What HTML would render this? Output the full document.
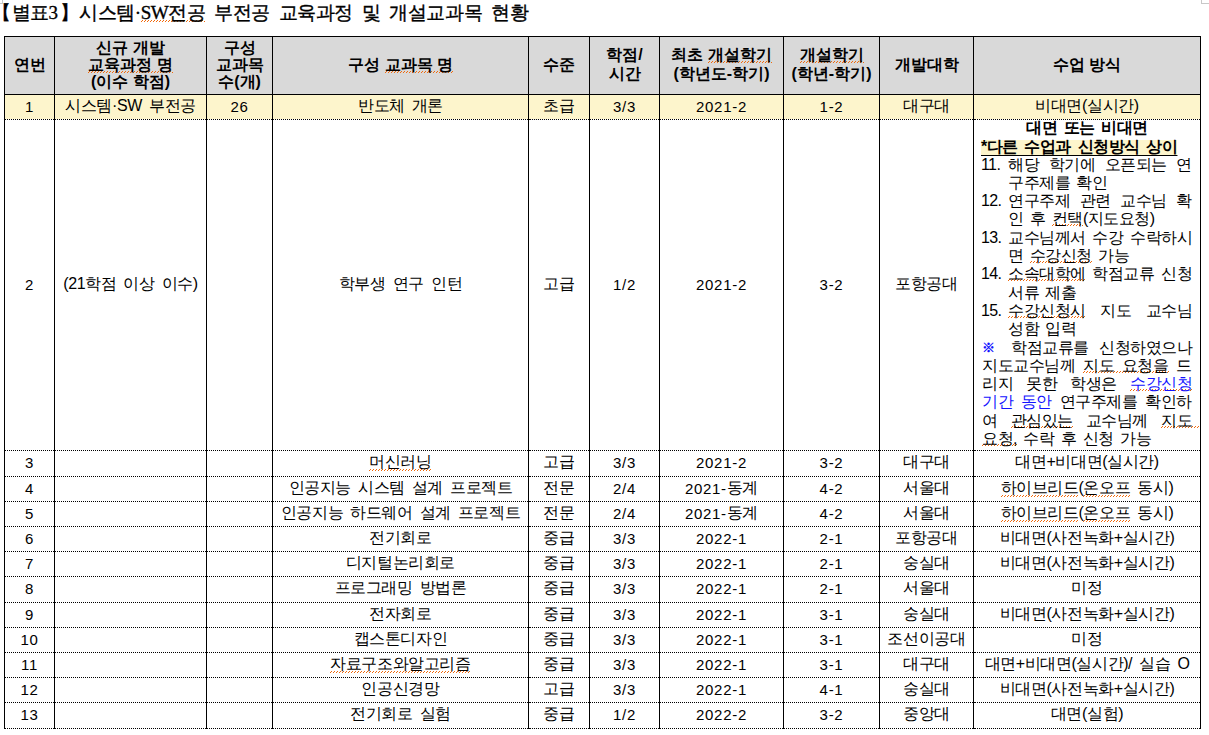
<!DOCTYPE html>
<html lang="ko">
<head>
<meta charset="utf-8">
<title>별표3 시스템·SW전공 부전공 교육과정 및 개설교과목 현황</title>
<style>
html,body{margin:0;padding:0;background:#fff;}
body{width:1209px;height:735px;position:relative;overflow:hidden;font-family:"Liberation Sans",sans-serif;color:#000;}
.title{position:absolute;left:3px;top:0;height:26px;line-height:26px;font-family:"Liberation Serif",serif;font-weight:normal;-webkit-text-stroke:0.35px #000;font-size:19px;white-space:nowrap;margin:0;word-spacing:4.6px;letter-spacing:-0.45px;}
.title .lb{margin-left:-11px;letter-spacing:0.5px;}
.title .rb{margin-right:-8px;margin-left:2px;}
.mark{position:absolute;left:1201px;top:0;width:7px;height:3px;border-left:1px solid #c8c8c8;border-bottom:1px solid #c8c8c8;}
.mark.l{left:0;width:2px;border-left:0;border-right:1px solid #c8c8c8;}
u.sq{text-decoration:none;padding-bottom:1px;background-image:linear-gradient(90deg,#f26a0c 0,#f26a0c 1px,transparent 1px),linear-gradient(90deg,#f26a0c 0,#f26a0c 1px,transparent 1px);background-size:3px 1px,3px 1px;background-repeat:repeat-x,repeat-x;background-position:1px calc(100% - 1px),0 100%;}
.title u.sq,td.note u.sq{padding-bottom:0;background-position:1px calc(100% - 2px),0 calc(100% - 1px);}
th u.sq{padding-bottom:0;background-position:1px calc(100% - 1px),0 100%;}
table{position:absolute;left:4px;top:36px;border-collapse:collapse;table-layout:fixed;width:1197px;font-size:16px;}
td,th{padding:0;border-left:1px solid #000;border-right:1px solid #000;border-top:1px dotted #000;border-bottom:1px dotted #000;text-align:center;vertical-align:middle;font-weight:normal;overflow:hidden;white-space:nowrap;}
th{background:#d9d9d9;font-weight:bold;border-top:1px solid #000;border-bottom:1px solid #000;}
tr{height:25px;}
tr.head{height:58px;}
tr.t26{height:26px;}
tr.big{height:331px;}
tr.hl td{background:#fdf5cc;}
.c{display:block;overflow:hidden;height:24px;line-height:22px;}
tbody td{vertical-align:top;letter-spacing:-0.4px;word-spacing:3px;}
tr.big td{vertical-align:middle;}
th .c{height:auto;max-height:56px;line-height:16.7px;}
th.l2 .c{line-height:18.25px;position:relative;top:-1px;}
tr.big td.note{vertical-align:top;white-space:nowrap;text-align:left;letter-spacing:-0.5px;word-spacing:0;}
td.note .c{height:330px;line-height:18.3px;padding:0 8px 0 8px;position:relative;top:-1px;}
td.note p,td.note ul{margin:0;padding:0;}
td.note p.ctr{text-align:center;word-spacing:2.5px;}
td.note .hlt{background:linear-gradient(#fdf5cc,#fdf5cc) 0 2px/100% 16px no-repeat;text-decoration:underline;text-decoration-thickness:1px;text-underline-offset:3px;word-spacing:2.8px;position:relative;top:1px;left:-1px;}
td.note ul{list-style:none;}
td.note li{position:relative;padding-left:26px;}
td.note li .n{position:absolute;left:-1px;top:0;letter-spacing:-0.6px;}
td.note .ln{display:block;word-spacing:2.5px;}
td.note .ln.j{text-align:justify;text-align-last:justify;word-spacing:0;}
td.note u.ext{padding-right:8px;margin-right:-8px;}
.bl{color:#1212ff;}
.bl.ref{font-size:13px;font-weight:bold;vertical-align:1px;}
td.num .c{position:relative;top:1px;font-size:15px;letter-spacing:0.7px;}
.d{font-size:15px;letter-spacing:0.7px;position:relative;top:1px;}
</style>
</head>
<body>
<h1 class="title"><span class="lb">【</span>별표3<span class="rb">】</span> 시스템·<u class="sq">SW전공</u> 부전공 교육과정 및 개설교과목 현황</h1>
<div class="mark l"></div>
<div class="mark"></div>
<table>
<colgroup><col style="width:50px"><col style="width:152px"><col style="width:66px"><col style="width:256px"><col style="width:61px"><col style="width:70px"><col style="width:124px"><col style="width:96px"><col style="width:94px"><col style="width:227px"></colgroup>
<thead>
<tr class="head"><th><div class="c">연번</div></th><th><div class="c">신규 개발<br><u class="sq">교육과정 명</u><br>(이수 학점)</div></th><th><div class="c">구성<br>교과목<br>수(개)</div></th><th><div class="c">구성 <u class="sq">교과목 명</u></div></th><th><div class="c">수준</div></th><th class="l2"><div class="c">학점/<br>시간</div></th><th class="l2"><div class="c">최초 <u class="sq">개설학기</u><br>(학년도-학기)</div></th><th class="l2"><div class="c"><u class="sq">개설학기</u><br>(학년-학기)</div></th><th><div class="c">개발대학</div></th><th><div class="c">수업 방식</div></th></tr>
</thead>
<tbody>
<tr class="hl"><td class="num"><div class="c">1</div></td><td><div class="c">시스템·SW 부전공</div></td><td class="num"><div class="c">26</div></td><td><div class="c">반도체 개론</div></td><td><div class="c">초급</div></td><td class="num"><div class="c">3/3</div></td><td class="num"><div class="c">2021-2</div></td><td class="num"><div class="c">1-2</div></td><td><div class="c">대구대</div></td><td><div class="c">비대면(실시간)</div></td></tr>
<tr class="big"><td class="num"><div class="c">2</div></td><td><div class="c">(21학점 이상 이수)</div></td><td><div class="c"></div></td><td><div class="c">학부생 연구 인턴</div></td><td><div class="c">고급</div></td><td class="num"><div class="c">1/2</div></td><td class="num"><div class="c">2021-2</div></td><td class="num"><div class="c">3-2</div></td><td><div class="c">포항공대</div></td><td class="note"><div class="c">
<p class="ctr"><b>대면 또는 비대면</b></p>
<p><b class="hlt">*다른 수업과 신청방식 상이</b></p>
<ul>
<li><span class="n">11.</span><span class="ln j">해당 학기에 오픈되는 연</span><span class="ln">구주제를 확인</span></li>
<li><span class="n">12.</span><span class="ln j">연구주제 관련 교수님 확</span><span class="ln">인 후 <u class="sq">컨택</u>(지도요청)</span></li>
<li><span class="n">13.</span><span class="ln j">교수님께서 수강 수락하시</span><span class="ln">면 <u class="sq">수강신청</u> 가능</span></li>
<li><span class="n">14.</span><span class="ln j"><u class="sq">소속대학에</u> 학점교류 신청</span><span class="ln">서류 제출</span></li>
<li><span class="n">15.</span><span class="ln j"><u class="sq">수강신청시</u> 지도 교수님</span><span class="ln">성함 입력</span></li>
</ul>
<p><span class="ln j"><span class="bl ref">※</span> 학점교류를 신청하였으나</span><span class="ln j">지도교수님께 <u class="sq">지도 요청을</u> 드</span><span class="ln j">리지 못한 학생은 <span class="bl"><u class="sq">수강신청</u></span></span><span class="ln j"><span class="bl">기간 동안</span> 연구주제를 확인하</span><span class="ln j">여 <u class="sq">관심있는</u> 교수님께 <u class="sq ext">지도</u></span><span class="ln"><u class="sq">요청,</u> 수락 후 신청 가능</span></p>
</div></td></tr>
<tr class="t26"><td class="num"><div class="c">3</div></td><td><div class="c"></div></td><td><div class="c"></div></td><td><div class="c"><u class="sq">머신러닝</u></div></td><td><div class="c">고급</div></td><td class="num"><div class="c">3/3</div></td><td class="num"><div class="c">2021-2</div></td><td class="num"><div class="c">3-2</div></td><td><div class="c">대구대</div></td><td><div class="c">대면+비대면(실시간)</div></td></tr>
<tr><td class="num"><div class="c">4</div></td><td><div class="c"></div></td><td><div class="c"></div></td><td><div class="c">인공지능 시스템 설계 프로젝트</div></td><td><div class="c">전문</div></td><td class="num"><div class="c">2/4</div></td><td><div class="c"><span class="d">2021-</span>동계</div></td><td class="num"><div class="c">4-2</div></td><td><div class="c">서울대</div></td><td><div class="c"><u class="sq">하이브리드</u>(<u class="sq">온오프</u> 동시)</div></td></tr>
<tr><td class="num"><div class="c">5</div></td><td><div class="c"></div></td><td><div class="c"></div></td><td><div class="c">인공지능 하드웨어 설계 프로젝트</div></td><td><div class="c">전문</div></td><td class="num"><div class="c">2/4</div></td><td><div class="c"><span class="d">2021-</span>동계</div></td><td class="num"><div class="c">4-2</div></td><td><div class="c">서울대</div></td><td><div class="c"><u class="sq">하이브리드</u>(<u class="sq">온오프</u> 동시)</div></td></tr>
<tr><td class="num"><div class="c">6</div></td><td><div class="c"></div></td><td><div class="c"></div></td><td><div class="c">전기회로</div></td><td><div class="c">중급</div></td><td class="num"><div class="c">3/3</div></td><td class="num"><div class="c">2022-1</div></td><td class="num"><div class="c">2-1</div></td><td><div class="c">포항공대</div></td><td><div class="c">비대면(사전녹화+실시간)</div></td></tr>
<tr><td class="num"><div class="c">7</div></td><td><div class="c"></div></td><td><div class="c"></div></td><td><div class="c">디지털논리회로</div></td><td><div class="c">중급</div></td><td class="num"><div class="c">3/3</div></td><td class="num"><div class="c">2022-1</div></td><td class="num"><div class="c">2-1</div></td><td><div class="c">숭실대</div></td><td><div class="c">비대면(사전녹화+실시간)</div></td></tr>
<tr class="t26"><td class="num"><div class="c">8</div></td><td><div class="c"></div></td><td><div class="c"></div></td><td><div class="c">프로그래밍 방법론</div></td><td><div class="c">중급</div></td><td class="num"><div class="c">3/3</div></td><td class="num"><div class="c">2022-1</div></td><td class="num"><div class="c">2-1</div></td><td><div class="c">서울대</div></td><td><div class="c">미정</div></td></tr>
<tr><td class="num"><div class="c">9</div></td><td><div class="c"></div></td><td><div class="c"></div></td><td><div class="c">전자회로</div></td><td><div class="c">중급</div></td><td class="num"><div class="c">3/3</div></td><td class="num"><div class="c">2022-1</div></td><td class="num"><div class="c">3-1</div></td><td><div class="c">숭실대</div></td><td><div class="c">비대면(사전녹화+실시간)</div></td></tr>
<tr><td class="num"><div class="c">10</div></td><td><div class="c"></div></td><td><div class="c"></div></td><td><div class="c">캡스톤디자인</div></td><td><div class="c">중급</div></td><td class="num"><div class="c">3/3</div></td><td class="num"><div class="c">2022-1</div></td><td class="num"><div class="c">3-1</div></td><td><div class="c">조선이공대</div></td><td><div class="c">미정</div></td></tr>
<tr><td class="num"><div class="c">11</div></td><td><div class="c"></div></td><td><div class="c"></div></td><td><div class="c"><u class="sq">자료구조와알고리즘</u></div></td><td><div class="c">중급</div></td><td class="num"><div class="c">3/3</div></td><td class="num"><div class="c">2022-1</div></td><td class="num"><div class="c">3-1</div></td><td><div class="c">대구대</div></td><td><div class="c">대면+비대면(실시간)/ 실습 O</div></td></tr>
<tr><td class="num"><div class="c">12</div></td><td><div class="c"></div></td><td><div class="c"></div></td><td><div class="c">인공신경망</div></td><td><div class="c">고급</div></td><td class="num"><div class="c">3/3</div></td><td class="num"><div class="c">2022-1</div></td><td class="num"><div class="c">4-1</div></td><td><div class="c">숭실대</div></td><td><div class="c">비대면(사전녹화+실시간)</div></td></tr>
<tr class="t26"><td class="num"><div class="c">13</div></td><td><div class="c"></div></td><td><div class="c"></div></td><td><div class="c">전기회로 실험</div></td><td><div class="c">중급</div></td><td class="num"><div class="c">1/2</div></td><td class="num"><div class="c">2022-2</div></td><td class="num"><div class="c">3-2</div></td><td><div class="c">중앙대</div></td><td><div class="c">대면(실험)</div></td></tr>
</tbody>
</table>
</body>
</html>
